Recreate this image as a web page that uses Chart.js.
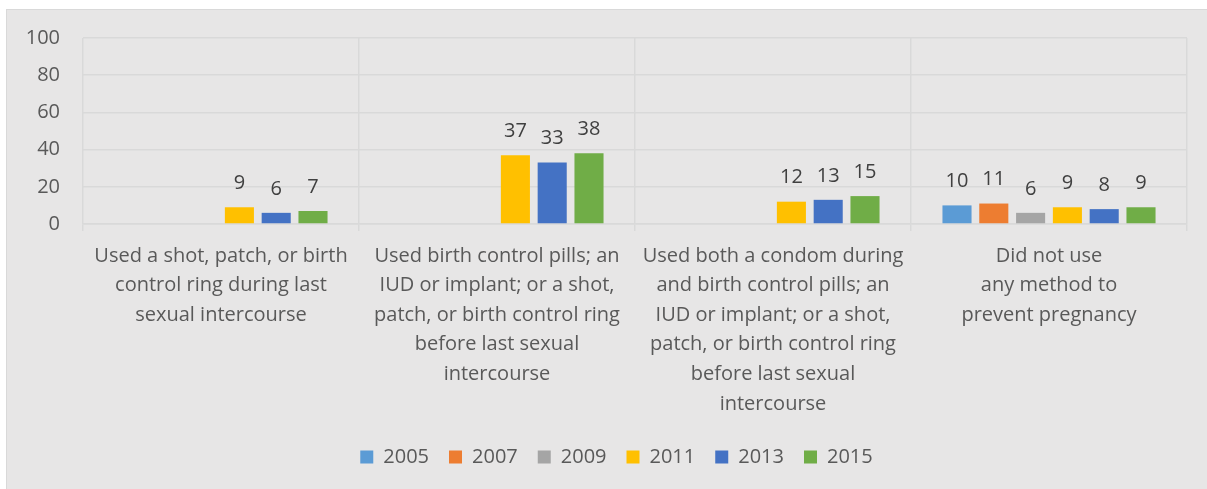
<!DOCTYPE html>
<html>
<head>
<meta charset="utf-8">
<script src="https://cdn.jsdelivr.net/npm/chart.js@4/dist/chart.umd.min.js"></script>
<style>
  html, body { margin: 0; padding: 0; background: #fff; }
  #wrap { position: absolute; left: 6px; top: 9px; width: 1201px; height: 480px;
          background: #E7E6E6; box-shadow: inset 1px 1px 0 #D9D9D9; }
</style>
</head>
<body>
<div id="wrap"><canvas id="chart"></canvas></div>
<script>
let categories = [
    ['Used a shot, patch, or birth', 'control ring during last', 'sexual intercourse'],
    ['Used birth control pills; an', 'IUD or implant; or a shot,', 'patch, or birth control ring', 'before last sexual', 'intercourse'],
    ['Used both a condom during', 'and birth control pills; an', 'IUD or implant; or a shot,', 'patch, or birth control ring', 'before last sexual', 'intercourse'],
    ['Did not use', 'any method to', 'prevent pregnancy']
];
let years = ['2005', '2007', '2009', '2011', '2013', '2015'];
let v2005 = [null, null, null, 10];
let v2007 = [null, null, null, 11];
let v2009 = [null, null, null, 6];
let v2011 = [9, 37, 12, 9];
let v2013 = [6, 33, 13, 8];
let v2015 = [7, 38, 15, 9];
let yTicks = [0, 20, 40, 60, 80, 100];

let colors = ['#5B9BD5', '#ED7D31', '#A5A5A5', '#FFC000', '#4472C4', '#70AD47'];
let series = [v2005, v2007, v2009, v2011, v2013, v2015];
let textColor = '#595959';
let gridColor = '#D9D9D9';
Chart.defaults.font.family = "'Open Sans'";

// value labels above each bar
let barLabels = {
    id: 'barLabels',
    afterLayout(chart) {
        // legend sits a bit right of centre in the original
        chart.legend.left += 20;
        chart.legend.right += 20;
    },
    afterDatasetsDraw(chart) {
        let ctx = chart.ctx;
        ctx.save();
        ctx.font = "20px 'Open Sans'";
        ctx.fillStyle = '#404040';
        ctx.textAlign = 'center';
        ctx.textBaseline = 'middle';
        chart.data.datasets.forEach((ds, i) => {
            chart.getDatasetMeta(i).data.forEach((bar, j) => {
                if (ds.data[j] == null) return;
                ctx.fillText(ds.data[j], bar.x, bar.y - 24);
            });
        });
        ctx.restore();
    }
};

new Chart(document.getElementById('chart'), {
    type: 'bar',
    data: {
        labels: categories,
        datasets: years.map((y, i) => ({
            label: y,
            data: series[i],
            backgroundColor: colors[i],
            categoryPercentage: 0.8,
            barPercentage: 0.79
        }))
    },
    options: {
        responsive: true,
        maintainAspectRatio: false,
        animation: false,
        layout: { padding: { top: 29, right: 20, bottom: 12, left: 0 } },
        plugins: {
            legend: {
                position: 'bottom',
                labels: {
                    color: textColor,
                    font: { size: 20 },
                    boxWidth: 13,
                    boxHeight: 13,
                    padding: 20
                }
            },
            tooltip: { enabled: false }
        },
        scales: {
            x: {
                grid: { color: gridColor, lineWidth: 1.5, tickLength: 7, offset: true },
                border: { color: gridColor, width: 1.5 },
                ticks: {
                    color: textColor,
                    font: { size: 20, lineHeight: 1.48 },
                    maxRotation: 0,
                    autoSkip: false,
                    padding: 10
                },
                afterFit(scale) { scale.height = 203; }
            },
            y: {
                min: 0,
                max: 100,
                afterBuildTicks(scale) { scale.ticks = yTicks.map(v => ({ value: v })); },
                grid: { color: gridColor, lineWidth: 1.5, drawTicks: false },
                border: { display: false },
                ticks: {
                    color: textColor,
                    font: { size: 20 },
                    padding: 23
                },
                afterFit(scale) {
                    scale.width = 77;
                    scale.paddingTop = 0;
                    scale.paddingBottom = 0;
                }
            }
        }
    },
    plugins: [barLabels]
});
</script>
</body>
</html>
